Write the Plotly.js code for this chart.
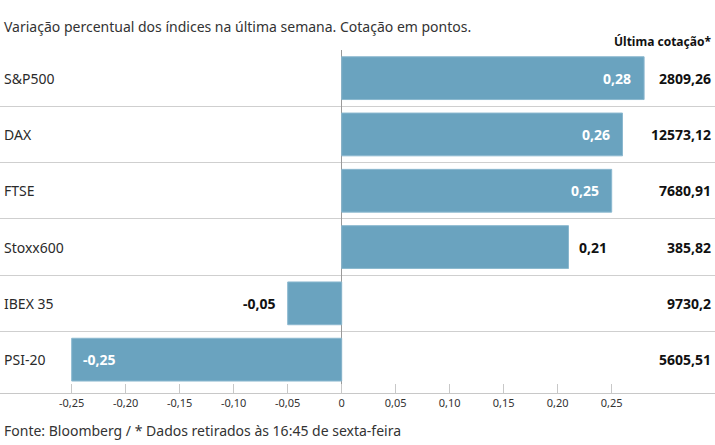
<!DOCTYPE html>
<html>
<head>
<meta charset="utf-8">
<script src="https://cdn.plot.ly/plotly-3.0.1.min.js"></script>
<style>
  html, body { margin: 0; padding: 0; overflow: hidden; background: #fff; }
  #chart { width: 715px; height: 445px; }
</style>
</head>
<body>
<div id="chart"></div>
<script>
// Data
var categories = ["S&P500", "DAX", "FTSE", "Stoxx600", "IBEX 35", "PSI-20"];
var weeklyChange = [0.28, 0.26, 0.25, 0.21, -0.05, -0.25];
var lastQuote = [2809.26, 12573.12, 7680.91, 385.82, 9730.2, 5605.51];
var tickValues = [-0.25, -0.20, -0.15, -0.10, -0.05, 0, 0.05, 0.10, 0.15, 0.20, 0.25];
var tickLabels = ["-0,25", "-0,20", "-0,15", "-0,10", "-0,05", "0", "0,05", "0,10", "0,15", "0,20", "0,25"];
var titleText = "Variação percentual dos índices na última semana. Cotação em pontos.";
var sourceText = "Fonte: Bloomberg / * Dados retirados às 16:45 de sexta-feira";
var columnHeader = "Última cotação*";

var W = 715, H = 445, plotTop = 50, plotBottom = 393;
var plotH = plotBottom - plotTop;
function px(x) { return x / W; }
function py(y) { return (plotBottom - y) / plotH; }
function fmt(v) { return String(v).replace('.', ','); }

var rowIdx = categories.map(function (c, i) { return i; });
var FONT = "'Noto Sans', Lato, sans-serif";
var TXT = "#2a2a2a";

var annotations = [];
annotations.push({ xref: 'paper', yref: 'paper', x: px(2), y: py(27), xanchor: 'left', yanchor: 'middle',
  text: titleText, showarrow: false, font: { family: FONT, size: 14, color: '#333' } });
annotations.push({ xref: 'paper', yref: 'paper', x: px(713), y: py(41), xanchor: 'right', yanchor: 'middle',
  text: '<b>' + columnHeader + '</b>', showarrow: false, font: { family: FONT, size: 12, color: '#111' } });
annotations.push({ xref: 'paper', yref: 'paper', x: px(2), y: py(430), xanchor: 'left', yanchor: 'middle',
  text: sourceText, showarrow: false, font: { family: FONT, size: 14, color: '#333' } });

categories.forEach(function (c, i) {
  annotations.push({ xref: 'paper', yref: 'y', x: px(2), y: i, xanchor: 'left', yanchor: 'middle',
    text: c, showarrow: false, font: { family: FONT, size: 14, color: TXT } });
  annotations.push({ xref: 'paper', yref: 'y', x: px(713), y: i, xanchor: 'right', yanchor: 'middle',
    text: '<b>' + fmt(lastQuote[i]) + '</b>', showarrow: false, font: { family: FONT, size: 14, color: '#111' } });
  var v = weeklyChange[i];
  var inside = Math.abs(v) > 0.22;
  var anchor = v > 0 ? (inside ? 'right' : 'left') : (inside ? 'left' : 'right');
  var shift = v > 0 ? (inside ? -11 : 8) : (inside ? 9 : -10);
  annotations.push({ xref: 'x', yref: 'y', x: v, y: i, xanchor: anchor, yanchor: 'middle', xshift: shift,
    text: '<b>' + fmt(v) + '</b>', showarrow: false,
    font: { family: FONT, size: 14, color: inside ? '#ffffff' : '#111' } });
});

var trace = {
  type: 'bar', orientation: 'h',
  x: weeklyChange, y: rowIdx,
  width: 0.76,
  marker: { color: '#6aa3bf', line: { color: '#8bb8cf', width: 1 } },
  hoverinfo: 'none'
};

var layout = {
  width: W, height: H,
  margin: { l: 0, r: 0, t: plotTop, b: H - plotBottom, pad: 0 },
  paper_bgcolor: '#fff', plot_bgcolor: '#fff',
  showlegend: false,
  separators: ',.',
  font: { family: FONT, color: TXT },
  xaxis: {
    range: [-341.7 / 1080, (715 - 341.7) / 1080],
    tickvals: tickValues, ticktext: tickLabels,
    ticks: 'inside', ticklen: 9, tickcolor: '#c8c8c8', tickwidth: 1,
    showline: true, linecolor: '#c8c8c8', linewidth: 1,
    showgrid: false,
    zeroline: true, zerolinecolor: '#9a9a9a', zerolinewidth: 1,
    tickfont: { family: FONT, size: 11, color: '#333' },
    fixedrange: true
  },
  yaxis: {
    range: [-0.5 + plotH / 56.3, -0.5],
    tickvals: [-0.5, 0.5, 1.5, 2.5, 3.5, 4.5],
    showticklabels: false, ticks: '',
    showgrid: true, gridcolor: '#cfcfcf', gridwidth: 1,
    zeroline: false, showline: false, fixedrange: true
  },
  annotations: annotations
};

Plotly.newPlot('chart', [trace], layout, { displayModeBar: false, staticPlot: true });
</script>
</body>
</html>
